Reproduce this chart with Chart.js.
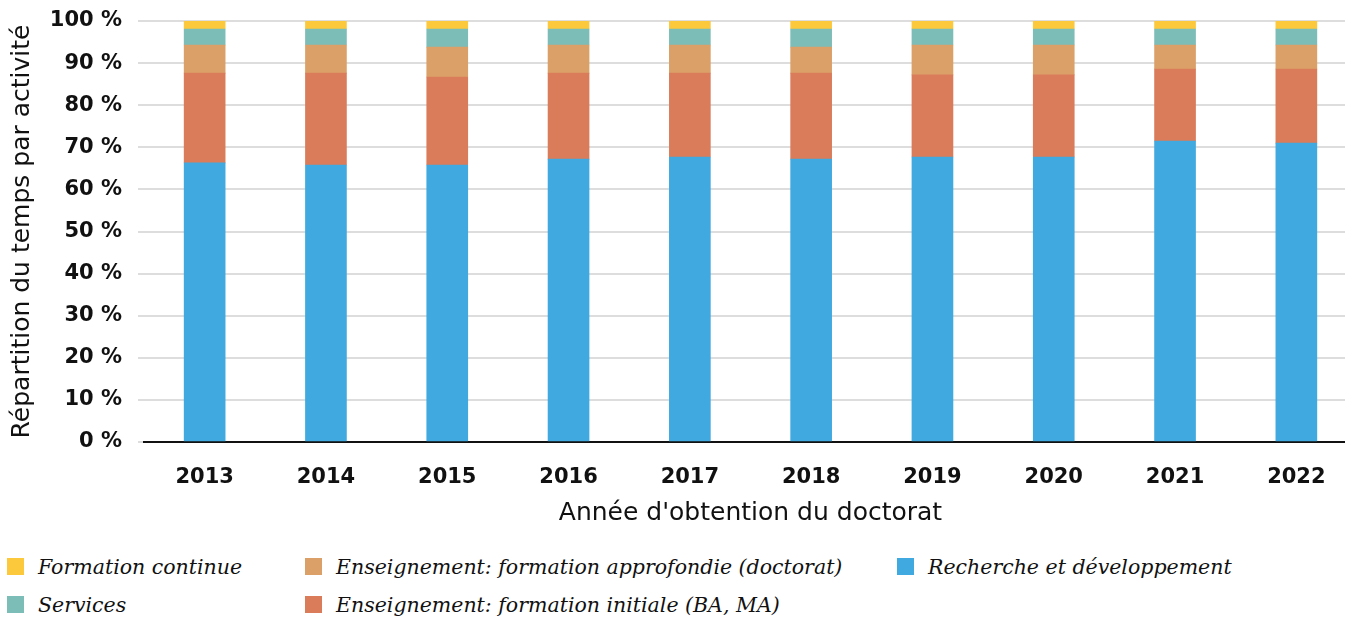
<!DOCTYPE html>
<html>
<head>
<meta charset="utf-8">
<script src="https://cdn.jsdelivr.net/npm/chart.js@4/dist/chart.umd.min.js"></script>
<style>
  html, body { margin: 0; padding: 0; background: #fff; overflow: hidden; }
  #wrap { position: relative; width: 1357px; height: 619px; }
  #chartBox { position: absolute; left: 0; top: 0; width: 1357px; height: 532px; }
  .leg { position: absolute; font-family: "DejaVu Serif", serif; font-style: italic; font-size: 20.5px; color: #111; white-space: nowrap; }
  .sw { position: absolute; width: 17px; height: 17px; }
</style>
</head>
<body>
<div id="wrap">
  <div id="chartBox"><canvas id="c"></canvas></div>
  <div id="legend"></div>
</div>
<script>
const categories = ["2013","2014","2015","2016","2017","2018","2019","2020","2021","2022"];
const recherche   = [66.3, 65.8, 65.8, 67.2, 67.7, 67.2, 67.7, 67.7, 71.5, 71.0];
const initiale    = [21.3, 21.8, 20.9, 20.4, 19.9, 20.4, 19.5, 19.5, 17.1, 17.6];
const approfondie = [ 6.7,  6.7,  7.1,  6.7,  6.7,  6.2,  7.1,  7.1,  5.7,  5.7];
const services    = [ 3.8,  3.8,  4.3,  3.8,  3.8,  4.3,  3.8,  3.8,  3.8,  3.8];
const continue_   = [ 1.9,  1.9,  1.9,  1.9,  1.9,  1.9,  1.9,  1.9,  1.9,  1.9];
const yTicks = [0,10,20,30,40,50,60,70,80,90,100];

const names = {
  continue_: "Formation continue",
  approfondie: "Enseignement: formation approfondie (doctorat)",
  recherche: "Recherche et développement",
  services: "Services",
  initiale: "Enseignement: formation initiale (BA, MA)"
};
const colors = {
  recherche: "#40AAE0",
  initiale: "#DA7C5A",
  approfondie: "#DBA068",
  services: "#7DBDB8",
  continue_: "#FCC83C"
};

const datasets = [
  {label: names.recherche, data: recherche, backgroundColor: colors.recherche},
  {label: names.initiale, data: initiale, backgroundColor: colors.initiale},
  {label: names.approfondie, data: approfondie, backgroundColor: colors.approfondie},
  {label: names.services, data: services, backgroundColor: colors.services},
  {label: names.continue_, data: continue_, backgroundColor: colors.continue_}
].map(d => Object.assign(d, {barThickness: 41, borderWidth: 0}));

const tickFont = {family: "DejaVu Sans", size: 21, weight: "bold"};
const titleFont = {family: "DejaVu Sans", size: 25, weight: "normal"};
new Chart(document.getElementById("c"), {
  type: "bar",
  data: {labels: categories, datasets},
  options: {
    responsive: true, maintainAspectRatio: false, animation: false,
    layout: {padding: {top: 21, right: 0, bottom: 0, left: 0}},
    plugins: {legend: {display: false}, tooltip: {enabled: false}},
    scales: {
      x: {
        stacked: true,
        grid: {display: false},
        border: {color: "#111", width: 2},
        afterFit: s => { s.height = 90; s.paddingLeft = 0; s.paddingRight = 0; },
        ticks: {color: "#111", font: tickFont, padding: 15},
        title: {display: true, text: "Année d'obtention du doctorat", color: "#111", font: titleFont, padding: {top: 0, bottom: 4}}
      },
      y: {
        stacked: true, min: 0, max: 100,
        afterBuildTicks: s => { s.ticks = yTicks.map(v => ({value: v})); },
        afterFit: s => { s.width = 144; s.paddingTop = 0; s.paddingBottom = 0; },
        grid: {color: "#dddddd", lineWidth: 2, tickLength: 6},
        border: {display: false},
        ticks: {color: "#111", font: tickFont, padding: 16, callback: v => v + " %"},
        title: {display: true, text: "Répartition du temps par activité", color: "#111", font: titleFont, padding: {top: 7, bottom: 0}}
      }
    }
  }
});

const legendItems = [
  {k: "continue_", x: 7, y: 558},
  {k: "approfondie", x: 305, y: 558},
  {k: "recherche", x: 897, y: 558},
  {k: "services", x: 7, y: 596},
  {k: "initiale", x: 305, y: 596}
];
const L = document.getElementById("legend");
legendItems.forEach(it => {
  const sw = document.createElement("div");
  sw.className = "sw";
  sw.style.left = it.x + "px"; sw.style.top = it.y + "px";
  sw.style.background = colors[it.k];
  L.appendChild(sw);
  const t = document.createElement("div");
  t.className = "leg";
  t.style.left = (it.x + 31) + "px"; t.style.top = (it.y - 3) + "px";
  t.textContent = names[it.k];
  L.appendChild(t);
});
</script>
</body>
</html>
